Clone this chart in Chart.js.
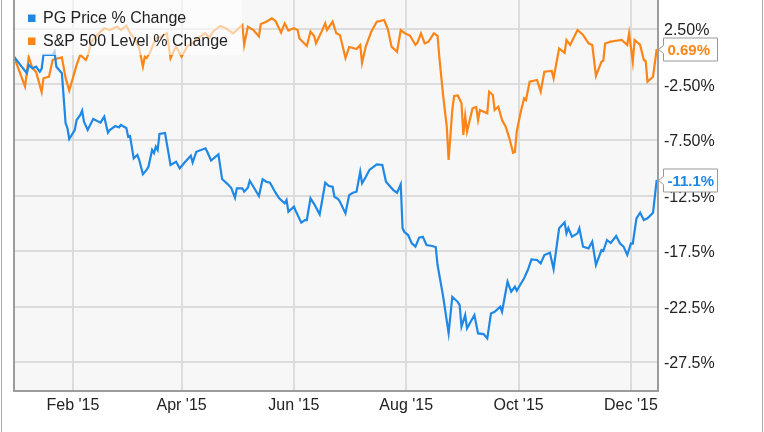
<!DOCTYPE html>
<html>
<head>
<meta charset="utf-8">
<title>PG vs S&amp;P 500</title>
<script src="https://cdn.jsdelivr.net/npm/chart.js@4.4.1/dist/chart.umd.min.js"></script>
<style>
  html, body { margin: 0; padding: 0; background: #fff; }
  #wrap { position: relative; width: 764px; height: 432px; }
</style>
</head>
<body>
<div id="wrap"><canvas id="chart-pg" width="764" height="432"></canvas></div>
<script>
/* PG price % change vs S&P 500 level % change, 2015
   x = day of year 2015 (0 = 1 Jan), y = % change */

var pgDays = [
  -1, 2, 6, 7, 9, 11, 13, 14, 15, 20,
  21, 22, 25, 27, 28, 29, 32, 33, 35, 36,
  37, 39, 42, 46, 48, 50, 51, 54, 56, 57,
  60, 61, 62, 64, 66, 67, 69, 71, 72, 74,
  75, 76, 77, 78, 81, 84, 87, 89, 92, 95,
  96, 98, 103, 104, 106, 110, 112, 115, 117, 119,
  120, 123, 124, 126, 127, 129, 132, 134, 136, 138,
  141, 143, 146, 147, 148, 151, 152, 155, 157, 158,
  160, 162, 165, 168, 170, 172, 173, 175, 176, 179,
  181, 183, 185, 187, 188, 190, 192, 196, 199, 201,
  203, 205, 207, 209, 210, 211, 213, 215, 217, 219,
  221, 223, 226, 228, 229, 232, 235, 237, 240, 241,
  242, 244, 245, 249, 251, 254, 256, 258, 260, 263,
  264, 267, 269, 271, 272, 276, 278, 280, 283, 285,
  287, 290, 292, 295, 298, 299, 300, 302, 305, 306,
  308, 311, 313, 315, 318, 319, 321, 323, 326, 328,
  330, 332, 334, 335, 337, 339, 341, 343, 346, 348
];
var pgChange = [
  0, -0.65, -1.49, -0.74, -1.04, -0.90, -1.35, -1.10, 0.16, 0.16,
  0.45, -0.90, -1.49, -5.97, -6.42, -7.41, -6.60, -5.70, -5.25, -4.86,
  -5.85, -6.60, -5.61, -5.94, -5.40, -6.84, -6.60, -6.24, -6.37, -6.15,
  -6.42, -7.20, -7.14, -9.15, -8.85, -9.30, -10.59, -10.20, -9.91, -8.40,
  -8.67, -8.10, -8.40, -6.96, -6.87, -9.75, -9.46, -10.05, -9.46, -8.92,
  -9.53, -8.56, -8.25, -8.58, -9.35, -8.79, -11.02, -11.47, -11.83, -12.70,
  -11.85, -11.85, -12.16, -11.80, -11.17, -11.71, -12.55, -11.04, -11.26, -11.35,
  -12.25, -12.75, -13.20, -12.91, -13.96, -13.51, -13.90, -14.95, -14.71, -14.71,
  -12.75, -13.27, -14.20, -11.35, -11.65, -11.71, -12.61, -12.82, -13.06, -14.11,
  -12.46, -12.25, -12.16, -10.36, -11.40, -10.83, -10.20, -9.69, -9.75, -11.26,
  -11.65, -12.01, -12.25, -11.49, -15.46, -15.79, -16.06, -16.81, -17.11, -16.30,
  -16.21, -16.96, -17.05, -17.14, -18.76, -21.56, -24.89, -21.62, -22.10, -22.37,
  -24.32, -23.27, -24.47, -23.27, -24.92, -24.98, -25.37, -23.12, -22.97, -22.52,
  -22.97, -20.27, -21.17, -20.72, -21.08, -19.96, -19.21, -18.25, -18.31, -18.61,
  -17.86, -17.66, -19.12, -15.46, -14.92, -15.91, -15.43, -16.21, -15.91, -15.46,
  -17.11, -17.26, -16.66, -18.76, -17.41, -17.50, -16.51, -16.78, -16.15, -16.81,
  -17.11, -17.86, -16.81, -16.83, -14.56, -14.05, -14.71, -14.56, -14.05, -11.1
];

var spDays = [
  -1, 2, 5, 7, 9, 11, 14, 15, 18, 20,
  25, 27, 29, 31, 33, 35, 38, 39, 41, 45,
  48, 51, 55, 57, 60, 62, 65, 67, 69, 70,
  71, 73, 76, 79, 82, 84, 86, 87, 90, 93,
  96, 100, 103, 105, 107, 111, 114, 118, 121, 123,
  124, 126, 129, 132, 133, 136, 139, 141, 144, 146,
  148, 151, 153, 154, 158, 160, 162, 163, 166, 168,
  169, 172, 174, 176, 179, 181, 185, 187, 188, 190,
  193, 195, 196, 200, 202, 204, 207, 209, 211, 214,
  217, 218, 220, 222, 224, 227, 229, 230, 232, 234,
  235, 237, 238, 240, 242, 243, 244, 245, 248, 250,
  251, 252, 256, 257, 259, 260, 262, 264, 266, 268,
  270, 271, 272, 274, 276, 277, 279, 283, 285, 287,
  291, 292, 295, 298, 299, 301, 305, 308, 311, 313,
  315, 318, 319, 320, 323, 325, 329, 332, 333, 335,
  336, 339, 341, 342, 343, 346, 348
];
var spChange = [
  0, -1.35, -2.70, -0.02, -1.04, -1.37, -3.18, -1.94, -1.80, -0.29,
  -0.05, -1.91, -3.04, -1.91, -0.74, 0.16, -0.29, 0.07, 1.33, 2.11,
  2.56, 2.41, 2.71, 2.41, 2.80, 2.14, 1.51, 0.76, -0.90, 0.00,
  -0.11, 0.45, 1.66, 1.80, 2.11, -0.14, 0.61, 0.91, 0.00, 0.91,
  1.24, 1.81, 2.11, 1.69, 2.26, 2.77, 2.56, 2.11, 2.56, 2.86,
  1.06, 2.71, 2.41, 1.82, 2.95, 3.16, 3.46, 3.22, 2.18, 3.01,
  2.36, 2.56, 2.41, 1.64, 0.97, 2.26, 1.87, 1.21, 2.26, 3.01,
  2.41, 3.16, 2.11, 1.96, -0.11, 0.88, 0.70, 1.06, -0.56, 0.91,
  2.26, 2.86, 3.16, 3.31, 2.50, 0.91, 0.45, 2.41, 2.14, 1.91,
  1.06, 1.24, 2.11, 1.21, 1.33, 2.11, 1.87, -0.11, -3.45, -6.30,
  -9.30, -4.80, -3.54, -3.49, -4.19, -7.05, -5.34, -6.75, -4.64, -4.53,
  -5.70, -4.80, -5.10, -3.15, -3.45, -4.80, -4.50, -5.70, -6.30, -7.35,
  -8.65, -8.58, -6.75, -5.10, -3.74, -3.90, -2.25, -2.10, -3.15, -1.35,
  -1.28, -1.94, 0.74, 0.34, 1.51, 1.06, 2.41, 1.96, 1.21, 1.06,
  -1.73, -0.45, -0.34, 1.19, 1.36, 1.42, 1.51, 1.06, 2.11, -0.45,
  1.51, 1.06, -0.29, -0.38, -2.25, -1.80, 0.69
];

var seriesNames = ['PG Price % Change', 'S&P 500 Level % Change'];
var endLabels   = ['-11.1%', '0.69%'];

var xTickDays   = [31, 90, 151, 212, 273, 334];
var xTickLabels = ["Feb '15", "Apr '15", "Jun '15", "Aug '15", "Oct '15", "Dec '15"];
var yTickValues = [2.5, -2.5, -7.5, -12.5, -17.5, -22.5, -27.5];
var yTickLabels = ['2.50%', '-2.50%', '-7.50%', '-12.5%', '-17.5%', '-22.5%', '-27.5%'];

var WARNA_PG = '#1f88e5';
var WARNA_SP = '#fb8516';
var FONT     = '"Liberation Sans", Arial, sans-serif';

function toPoints(days, vals) {
  return days.map(function(d, i) { return { x: d, y: vals[i] }; });
}

// background, legend, frame and end-value callouts
var dekorPlugin = {
  id: 'dekor',
  beforeDraw: function(chart) {
    var ctx = chart.ctx, a = chart.chartArea;
    ctx.save();
    ctx.fillStyle = '#f7f7f7';
    ctx.fillRect(a.left, a.top, a.right - a.left, a.bottom - a.top);
    // outer frame of the picture
    ctx.strokeStyle = '#a8a8a8';
    ctx.lineWidth = 1;
    ctx.beginPath();
    ctx.moveTo(1.5, 0); ctx.lineTo(1.5, chart.height);
    ctx.moveTo(762.5, 0); ctx.lineTo(762.5, chart.height);
    ctx.stroke();
    ctx.restore();
  },
  afterDatasetsDraw: function(chart) {
    var ctx = chart.ctx, a = chart.chartArea;
    ctx.save();
    // legend box (semi transparent)
    ctx.fillStyle = 'rgba(255,255,255,0.6)';
    ctx.fillRect(a.left, a.top, 228, 55);
    var warna = [WARNA_PG, WARNA_SP];
    ctx.font = '16px ' + FONT;
    ctx.textBaseline = 'middle';
    ctx.textAlign = 'left';
    for (var i = 0; i < seriesNames.length; i++) {
      var cy = 18.5 + i * 23;
      ctx.fillStyle = warna[i];
      ctx.fillRect(28, cy - 4, 7.5, 7.5);
      ctx.fillStyle = '#222';
      ctx.fillText(seriesNames[i], 43, cy);
    }
    // plot border
    ctx.strokeStyle = '#9c9c9c';
    ctx.lineWidth = 2;
    ctx.beginPath();
    ctx.moveTo(a.left, a.top);
    ctx.lineTo(a.left, a.bottom);
    ctx.lineTo(a.right, a.bottom);
    ctx.lineTo(a.right, a.top);
    ctx.stroke();
    ctx.restore();
  },
  afterDraw: function(chart) {
    var ctx = chart.ctx, a = chart.chartArea;
    var yScale = chart.scales.y;
    var warna = [WARNA_PG, WARNA_SP];
    var akhir = [pgChange[pgChange.length - 1], spChange[spChange.length - 1]];
    ctx.save();
    ctx.font = 'bold 15px ' + FONT;
    ctx.textBaseline = 'middle';
    ctx.textAlign = 'left';
    for (var i = 0; i < akhir.length; i++) {
      var y = Math.round(yScale.getPixelForValue(akhir[i])) + 0.5;
      var tip = a.right + 0.5, kiri = tip + 5;
      var w = 54, h = 23;
      ctx.beginPath();
      ctx.moveTo(tip, y);
      ctx.lineTo(kiri, y - 4);
      ctx.lineTo(kiri, y - h / 2);
      ctx.lineTo(kiri + w, y - h / 2);
      ctx.lineTo(kiri + w, y + h / 2);
      ctx.lineTo(kiri, y + h / 2);
      ctx.lineTo(kiri, y + 4);
      ctx.closePath();
      ctx.fillStyle = '#fff';
      ctx.fill();
      ctx.strokeStyle = '#999';
      ctx.lineWidth = 1;
      ctx.stroke();
      ctx.fillStyle = warna[i];
      ctx.fillText(endLabels[i], kiri + 4, y + 1);
    }
    ctx.restore();
  }
};

var ctxPg = document.getElementById('chart-pg');
var chartPg = new Chart(ctxPg, {
  type: 'line',
  data: {
    datasets: [
      {
        label: seriesNames[0],
        data: toPoints(pgDays, pgChange),
        borderColor: WARNA_PG,
        borderWidth: 2.2,
        pointRadius: 0, tension: 0, fill: false,
      },
      {
        label: seriesNames[1],
        data: toPoints(spDays, spChange),
        borderColor: WARNA_SP,
        borderWidth: 2.2,
        pointRadius: 0, tension: 0, fill: false,
      },
    ],
  },
  options: {
    responsive: false,
    animation: false,
    devicePixelRatio: 1,
    layout: { padding: { left: 14, top: 0, right: 0, bottom: 0 } },
    plugins: {
      legend: { display: false },
      tooltip: { enabled: false },
    },
    scales: {
      x: {
        type: 'linear',
        min: -1,
        max: 348.7,
        afterBuildTicks: function(s) {
          s.ticks = xTickDays.map(function(v) { return { value: v }; });
        },
        afterFit: function(s) {
          s.height = 41;
          s.paddingLeft = 0; s.paddingRight = 0;
        },
        ticks: {
          callback: function(v, i) { return xTickLabels[i]; },
          font: { size: 16, family: FONT },
          color: '#222',
          padding: 5,
          maxRotation: 0,
          autoSkip: false,
        },
        grid: { color: '#dcdcdc', lineWidth: 2, drawTicks: false },
        border: { display: false },
      },
      y: {
        position: 'right',
        min: -30.11,
        max: 5.11,
        afterBuildTicks: function(s) {
          s.ticks = yTickValues.map(function(v) { return { value: v }; });
        },
        afterFit: function(s) {
          s.width = 106;
          s.paddingTop = 0; s.paddingBottom = 0;
        },
        ticks: {
          callback: function(v, i) { return yTickLabels[i]; },
          font: { size: 16, family: FONT },
          color: '#222',
          padding: 6,
          labelOffset: 2,
        },
        grid: { color: '#dcdcdc', lineWidth: 2, drawTicks: false },
        border: { display: false },
      },
    },
  },
  plugins: [dekorPlugin],
});
</script>
</body>
</html>
